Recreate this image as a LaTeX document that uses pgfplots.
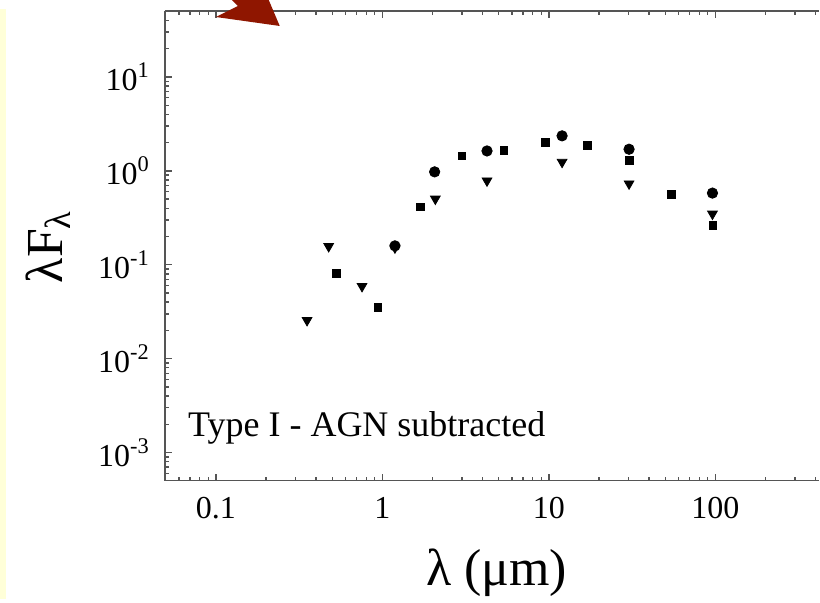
\documentclass[border=0pt]{standalone}
\usepackage{fontspec}
\setmainfont{Liberation Serif}
\usepackage{pgfplots}
\pgfplotsset{compat=1.18}
\definecolor{arrowred}{RGB}{143,22,0}
\definecolor{stripyellow}{RGB}{255,255,216}
\definecolor{axisgray}{RGB}{85,85,85}
\begin{document}
\begin{tikzpicture}
\begin{scope}[shift={(-82.5pt,4.5pt)},x=0.5pt,y=-0.5pt]
\path[use as bounding box] (0,0) rectangle (820,598);
\end{scope}
\begin{axis}[
  at={(0,0)}, anchor=north west,
  scale only axis, width=327.5pt, height=235pt,
  xmode=log, ymode=log,
  xmin=0.0494, xmax=420, ymin=5.04e-4, ymax=50.4,
  axis x line*=box, axis y line*=left,
  axis line style={axisgray, line width=0.8pt},
  tick align=inside,
  tick style={axisgray, line width=0.7pt},
  major tick length=3.5pt, minor tick length=2pt,
  xtick={0.1,1,10,100}, xticklabels={0.1,1,10,100},
  minor xtick={0.05,0.06,0.07,0.08,0.09,0.2,0.3,0.4,0.5,0.6,0.7,0.8,0.9,2,3,4,5,6,7,8,9,20,30,40,50,60,70,80,90,200,300,400},
  ytick={1e-3,1e-2,1e-1,1,10},
  yticklabels={10\textsuperscript{-3},10\textsuperscript{-2},10\textsuperscript{-1},10\textsuperscript{0},10\textsuperscript{1}},
  minor ytick={6e-4,7e-4,8e-4,9e-4,2e-3,3e-3,4e-3,5e-3,6e-3,7e-3,8e-3,9e-3,0.02,0.03,0.04,0.05,0.06,0.07,0.08,0.09,0.2,0.3,0.4,0.5,0.6,0.7,0.8,0.9,2,3,4,5,6,7,8,9,20,30,40,50},
  ticklabel style={font=\fontsize{16}{16}\selectfont},
  xticklabel style={yshift=-5pt},
  yticklabel style={xshift=-4pt},
  clip=false,
]
\addplot[only marks, mark=triangle*, mark size=2.8pt, mark options={rotate=180, fill=black, draw=black}] coordinates {
(0.353,0.0256) (0.476,0.157) (0.755,0.059) (1.19,0.152) (2.08,0.503) (4.25,0.785) (12,1.24) (30.3,0.73) (96,0.348)
};
\addplot[only marks, mark=square*, mark size=1.95pt, mark options={fill=black, draw=black}] coordinates {
(0.53,0.081) (0.94,0.0349) (1.69,0.414) (3.0,1.44) (5.37,1.66) (9.5,2.02) (17,1.85) (30.3,1.29) (54.4,0.56) (96.5,0.264)
};
\addplot[only marks, mark=*, mark size=2.6pt, mark options={fill=black, draw=black}] coordinates {
(1.19,0.159) (2.06,0.976) (4.25,1.63) (12,2.36) (30.3,1.70) (96,0.58)
};
\end{axis}
\begin{scope}[shift={(-82.5pt,4.5pt)},x=0.5pt,y=-0.5pt]
\fill[stripyellow] (0,7) rectangle (6,598);
\fill[arrowred] (216,15) -- (238,4) -- (232,-2) -- (269,-2) -- (280,24) -- cycle;
\node[anchor=base west, inner sep=0pt, font=\fontsize{18}{18}\selectfont] at (188,435) {Type I - AGN subtracted};
\node[font=\fontsize{26}{26}\selectfont] at (497,571) {λ (μm)};
\node[rotate=90, font=\fontsize{26}{26}\selectfont] at (48,245) {λF\textsubscript{λ}};
\end{scope}
\end{tikzpicture}
\end{document}
